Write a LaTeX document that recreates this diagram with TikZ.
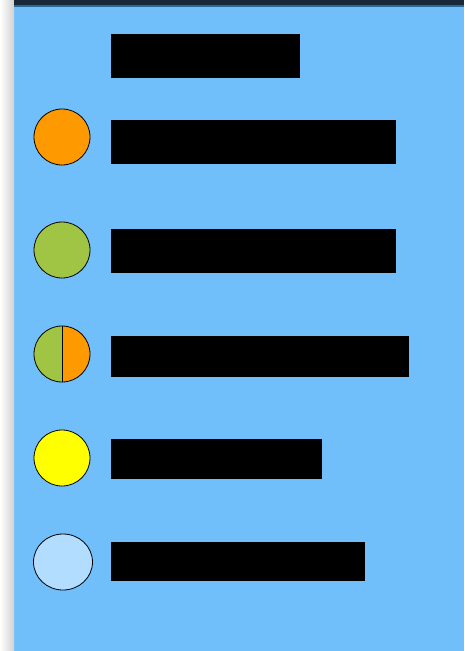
\documentclass[tikz,border=0pt]{standalone}
\definecolor{bgblue}{HTML}{70BEFA}
\definecolor{topbar}{HTML}{172838}
\definecolor{topline}{HTML}{2B6A98}
\definecolor{stripgray}{HTML}{E6E6E6}
\definecolor{corange}{HTML}{FF9900}
\definecolor{cgreen}{HTML}{A0C544}
\definecolor{cyellow}{HTML}{FFFF00}
\definecolor{clight}{HTML}{B3DDFF}
\begin{document}
\begin{tikzpicture}[x=1pt,y=-1pt,
  redact/.style={fill=black, draw=none, inner sep=0pt, anchor=north west},
  dot/.style={draw=black, line width=0.8pt}]
\useasboundingbox (0,0) rectangle (464,651);
% background
\fill[bgblue] (0,0) rectangle (464,651);
\shade[left color=white, right color=stripgray!80!gray] (0,0) rectangle (14,651);
\fill[topbar] (14,0) rectangle (464,5);
\fill[topline] (14,5) rectangle (464,6.5);
% black label boxes
\node[redact, minimum width=189pt, minimum height=44pt] (t0) at (111,34) {};
\node[redact, minimum width=285pt, minimum height=44pt] (t1) at (111,120) {};
\node[redact, minimum width=285pt, minimum height=44pt] (t2) at (111,229) {};
\node[redact, minimum width=298pt, minimum height=41pt] (t3) at (111,336) {};
\node[redact, minimum width=211pt, minimum height=40pt] (t4) at (111,439) {};
\node[redact, minimum width=254pt, minimum height=39pt] (t5) at (111,542) {};
% circles
\filldraw[dot, fill=corange] (62,137) circle (28);
\filldraw[dot, fill=cgreen] (62,250) circle (28);
\fill[cgreen] (62,326) arc (-90:-270:28) -- cycle;
\fill[corange] (62,326) arc (-90:90:28) -- cycle;
\draw[dot] (62,354) circle (28);
\draw[dot] (62,326) -- (62,382);
\filldraw[dot, fill=cyellow] (62,458) circle (28);
\filldraw[dot, fill=clight] (63,562) ellipse (29.5 and 28);
\end{tikzpicture}
\end{document}
